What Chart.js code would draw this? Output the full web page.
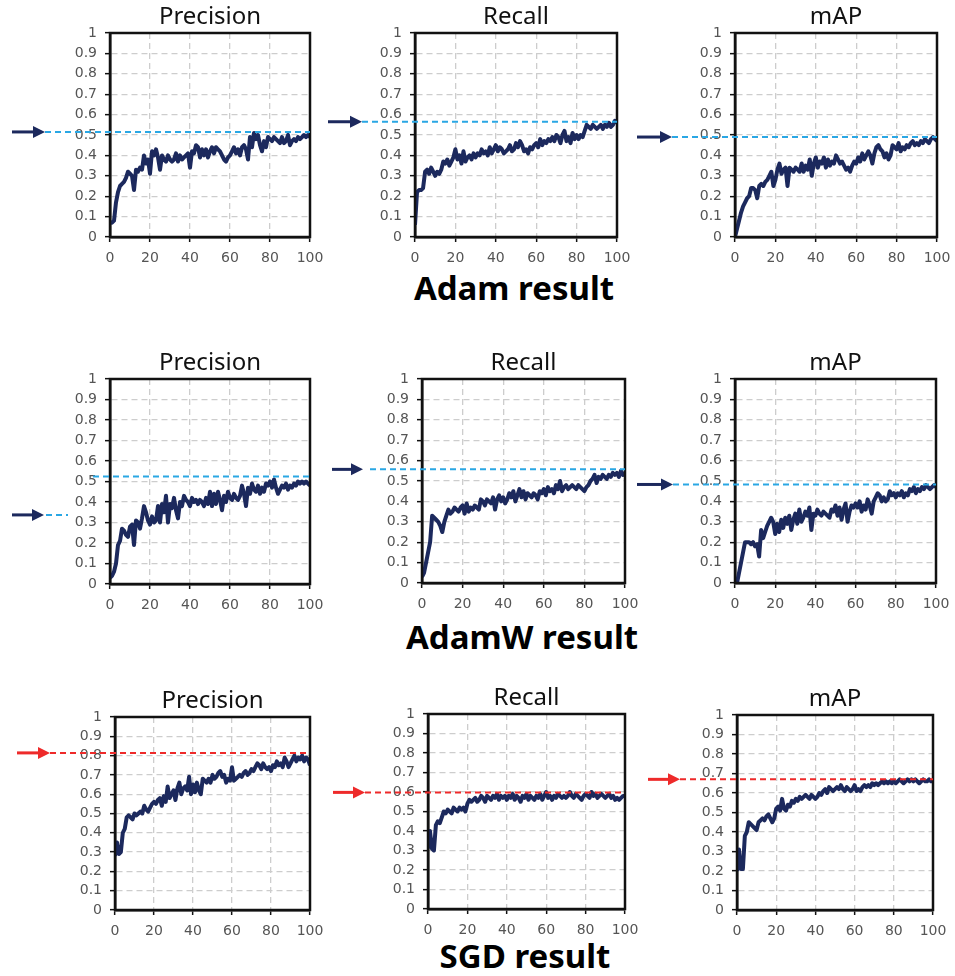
<!DOCTYPE html>
<html>
<head>
<meta charset="utf-8">
<script src="https://cdn.jsdelivr.net/npm/chart.js@4.4.1/dist/chart.umd.min.js"></script>
<style>
  body { margin: 0; background: #fff; }
  #fig { position: relative; width: 955px; height: 976px; overflow: hidden; }
  #fig canvas { position: absolute; }
  .caption { position: absolute; transform: translate(-50%, -50%); font: bold 33px "Noto Sans", sans-serif; color: #000; white-space: nowrap; }
</style>
</head>
<body>
<div id="fig">
  <div class="caption" style="left:514px;top:287px">Adam result</div>
  <div class="caption" style="left:522px;top:636px">AdamW result</div>
  <div class="caption" style="left:525px;top:955px">SGD result</div>
</div>
<script>
// epochs 0..100, one value per epoch
const EPOCHS = Array.from({ length: 101 }, (_, i) => i);
const X_TICKS = [0, 20, 40, 60, 80, 100];
const Y_TICKS = [0, 0.1, 0.2, 0.3, 0.4, 0.5, 0.6, 0.7, 0.8, 0.9, 1];
const METRICS = ['Precision', 'Recall', 'mAP'];

const ADAM_PRECISION = [
  0.07,0.07,0.08,0.17,0.22,0.25,0.26,0.27,0.29,0.32,
  0.31,0.30,0.23,0.33,0.32,0.34,0.33,0.40,0.36,0.38,
  0.31,0.42,0.40,0.43,0.39,0.33,0.40,0.38,0.37,0.40,
  0.38,0.37,0.38,0.41,0.37,0.40,0.38,0.39,0.40,0.41,
  0.34,0.42,0.41,0.45,0.44,0.39,0.43,0.40,0.43,0.39,
  0.42,0.44,0.41,0.44,0.43,0.42,0.40,0.38,0.37,0.39,
  0.40,0.42,0.44,0.41,0.43,0.40,0.44,0.45,0.43,0.38,
  0.49,0.44,0.51,0.48,0.50,0.45,0.42,0.47,0.44,0.49,
  0.48,0.47,0.49,0.48,0.47,0.46,0.49,0.46,0.47,0.50,
  0.45,0.47,0.48,0.47,0.49,0.48,0.49,0.50,0.49,0.50,
  0.49];
const ADAM_RECALL = [
  0.06,0.22,0.23,0.23,0.24,0.32,0.33,0.31,0.34,0.32,
  0.30,0.32,0.31,0.33,0.37,0.36,0.38,0.35,0.37,0.39,
  0.43,0.38,0.40,0.36,0.42,0.37,0.39,0.40,0.38,0.41,
  0.39,0.41,0.40,0.43,0.41,0.42,0.40,0.44,0.41,0.43,
  0.45,0.42,0.44,0.43,0.41,0.42,0.43,0.45,0.42,0.43,
  0.46,0.44,0.47,0.45,0.42,0.43,0.41,0.44,0.43,0.45,
  0.46,0.44,0.48,0.45,0.47,0.46,0.48,0.47,0.49,0.47,
  0.50,0.49,0.46,0.50,0.52,0.47,0.49,0.46,0.51,0.48,
  0.50,0.48,0.50,0.49,0.52,0.55,0.54,0.53,0.55,0.54,
  0.53,0.54,0.55,0.53,0.55,0.54,0.56,0.54,0.55,0.57,
  0.56];
const ADAM_MAP = [
  0.00,0.04,0.08,0.12,0.15,0.17,0.19,0.20,0.24,0.24,
  0.23,0.19,0.25,0.26,0.25,0.27,0.28,0.30,0.32,0.25,
  0.28,0.33,0.36,0.31,0.33,0.34,0.25,0.34,0.33,0.32,
  0.34,0.33,0.32,0.36,0.32,0.35,0.33,0.38,0.30,0.36,
  0.39,0.34,0.37,0.36,0.39,0.34,0.38,0.35,0.37,0.36,
  0.40,0.38,0.36,0.37,0.35,0.33,0.34,0.32,0.35,0.37,
  0.36,0.39,0.37,0.41,0.38,0.40,0.42,0.40,0.36,0.41,
  0.44,0.45,0.43,0.42,0.39,0.41,0.38,0.40,0.45,0.44,
  0.43,0.46,0.42,0.44,0.43,0.45,0.44,0.46,0.47,0.45,
  0.46,0.45,0.47,0.46,0.48,0.47,0.46,0.48,0.49,0.48,
  0.47];

const ADAMW_PRECISION = [
  0.03,0.04,0.06,0.10,0.19,0.21,0.27,0.26,0.24,0.23,
  0.28,0.29,0.19,0.31,0.30,0.27,0.32,0.38,0.35,0.31,
  0.29,0.33,0.30,0.31,0.38,0.30,0.39,0.35,0.43,0.30,
  0.39,0.37,0.42,0.36,0.32,0.40,0.38,0.43,0.41,0.40,
  0.38,0.42,0.40,0.41,0.39,0.41,0.40,0.38,0.42,0.39,
  0.45,0.38,0.44,0.39,0.45,0.41,0.36,0.43,0.40,0.45,
  0.42,0.41,0.44,0.42,0.41,0.43,0.48,0.44,0.38,0.47,
  0.44,0.49,0.46,0.45,0.48,0.44,0.47,0.45,0.49,0.48,
  0.50,0.47,0.51,0.47,0.44,0.46,0.48,0.47,0.49,0.46,
  0.48,0.47,0.49,0.48,0.50,0.49,0.50,0.49,0.50,0.49,
  0.48];
const ADAMW_RECALL = [
  0.03,0.05,0.10,0.15,0.20,0.33,0.32,0.31,0.30,0.28,
  0.25,0.30,0.33,0.36,0.34,0.35,0.37,0.36,0.35,0.37,
  0.38,0.34,0.39,0.35,0.37,0.36,0.38,0.37,0.36,0.41,
  0.40,0.38,0.41,0.40,0.39,0.42,0.36,0.41,0.43,0.40,
  0.42,0.39,0.41,0.44,0.42,0.45,0.40,0.43,0.46,0.42,
  0.45,0.41,0.44,0.43,0.42,0.44,0.43,0.41,0.45,0.44,
  0.46,0.43,0.47,0.45,0.46,0.44,0.48,0.46,0.50,0.45,
  0.47,0.48,0.46,0.47,0.48,0.47,0.46,0.48,0.47,0.46,
  0.45,0.47,0.48,0.50,0.51,0.53,0.49,0.52,0.51,0.53,
  0.52,0.51,0.53,0.52,0.54,0.53,0.54,0.52,0.55,0.53,
  0.54];
const ADAMW_MAP = [
  0.00,0.00,0.05,0.10,0.15,0.20,0.20,0.20,0.19,0.20,
  0.18,0.19,0.13,0.26,0.22,0.25,0.28,0.30,0.32,0.30,
  0.24,0.29,0.25,0.31,0.27,0.32,0.29,0.33,0.26,0.31,
  0.34,0.29,0.36,0.30,0.32,0.35,0.33,0.37,0.26,0.34,
  0.33,0.36,0.34,0.33,0.35,0.34,0.33,0.32,0.36,0.35,
  0.38,0.33,0.37,0.31,0.36,0.39,0.30,0.35,0.38,0.37,
  0.39,0.37,0.40,0.35,0.38,0.36,0.41,0.38,0.34,0.40,
  0.42,0.44,0.43,0.40,0.42,0.40,0.41,0.45,0.43,0.44,
  0.42,0.44,0.43,0.45,0.42,0.44,0.43,0.46,0.45,0.47,
  0.44,0.46,0.45,0.47,0.46,0.48,0.47,0.46,0.47,0.48,
  0.47];

const SGD_PRECISION = [
  0.28,0.35,0.29,0.30,0.40,0.42,0.48,0.49,0.48,0.47,
  0.50,0.49,0.50,0.51,0.50,0.54,0.52,0.51,0.53,0.55,
  0.56,0.55,0.57,0.58,0.54,0.59,0.56,0.64,0.58,0.60,
  0.62,0.57,0.63,0.66,0.60,0.63,0.64,0.62,0.69,0.60,
  0.65,0.61,0.66,0.62,0.60,0.68,0.67,0.66,0.68,0.66,
  0.70,0.68,0.69,0.71,0.72,0.69,0.70,0.66,0.68,0.67,
  0.74,0.67,0.68,0.69,0.70,0.69,0.71,0.72,0.70,0.71,
  0.73,0.72,0.74,0.76,0.75,0.73,0.76,0.74,0.73,0.74,
  0.72,0.75,0.74,0.77,0.75,0.76,0.74,0.79,0.77,0.74,
  0.76,0.78,0.80,0.77,0.79,0.78,0.80,0.77,0.79,0.78,
  0.75];
const SGD_RECALL = [
  0.31,0.40,0.31,0.30,0.43,0.45,0.44,0.47,0.50,0.49,
  0.51,0.50,0.49,0.52,0.51,0.50,0.52,0.51,0.52,0.50,
  0.54,0.56,0.55,0.56,0.57,0.55,0.56,0.58,0.57,0.55,
  0.58,0.57,0.56,0.58,0.57,0.59,0.56,0.58,0.57,0.58,
  0.56,0.58,0.57,0.59,0.56,0.58,0.57,0.55,0.58,0.57,
  0.59,0.56,0.58,0.57,0.56,0.58,0.57,0.59,0.56,0.58,
  0.60,0.57,0.58,0.56,0.58,0.57,0.59,0.58,0.57,0.58,
  0.57,0.58,0.60,0.58,0.57,0.59,0.58,0.57,0.56,0.58,
  0.59,0.58,0.57,0.60,0.58,0.59,0.57,0.58,0.59,0.58,
  0.57,0.58,0.59,0.57,0.58,0.56,0.57,0.56,0.57,0.58,
  0.58];
const SGD_MAP = [
  0.20,0.31,0.21,0.21,0.38,0.40,0.45,0.44,0.43,0.42,
  0.41,0.45,0.46,0.47,0.46,0.48,0.49,0.47,0.45,0.47,
  0.52,0.53,0.51,0.57,0.52,0.51,0.54,0.53,0.56,0.55,
  0.57,0.56,0.58,0.57,0.58,0.59,0.58,0.57,0.59,0.58,
  0.57,0.58,0.60,0.59,0.61,0.62,0.60,0.63,0.62,0.61,
  0.62,0.63,0.62,0.64,0.62,0.61,0.63,0.62,0.61,0.62,
  0.64,0.61,0.62,0.61,0.63,0.64,0.63,0.64,0.63,0.65,
  0.64,0.65,0.64,0.65,0.66,0.65,0.66,0.65,0.66,0.65,
  0.66,0.65,0.66,0.67,0.66,0.65,0.66,0.67,0.66,0.67,
  0.66,0.67,0.66,0.65,0.66,0.67,0.66,0.66,0.67,0.66,
  0.66];

// best-value reference lines (Precision, Recall, mAP)
const ADAM_REF = [0.515, 0.565, 0.49];
const ADAMW_REF = [0.524, 0.557, 0.483];
const SGD_REF = [0.814, 0.598, 0.67];
// in the AdamW precision panel the arrow sits lower than its line
const ADAMW_PRECISION_ARROW = 0.337;

const SERIES = [
  [ADAM_PRECISION, ADAM_RECALL, ADAM_MAP],
  [ADAMW_PRECISION, ADAMW_RECALL, ADAMW_MAP],
  [SGD_PRECISION, SGD_RECALL, SGD_MAP]
];
const REFS = [ADAM_REF, ADAMW_REF, SGD_REF];

const NAVY = '#1c295d';
const BLUE = '#2aa7e4';
const RED = '#ee2a2a';
const REF_COLORS = [BLUE, BLUE, RED];
const ARROW_COLORS = [NAVY, NAVY, RED];

// plot boxes on the page [left, top, right, bottom]; arrow/line offsets relative to plot left
const PANELS = [
  { row: 0, col: 0, box: [110, 33, 310, 237], arrow: [-98, -65], lineFrom: -65 },
  { row: 0, col: 1, box: [415, 33, 617, 237], arrow: [-87, -53], lineFrom: -53 },
  { row: 0, col: 2, box: [735, 33, 937, 237], arrow: [-98, -63], lineFrom: -63 },
  { row: 1, col: 0, box: [110, 379, 310, 584], arrow: [-98, -66], lineFrom: -17, stub: 22 },
  { row: 1, col: 1, box: [422, 379, 625, 583], arrow: [-90, -59], lineFrom: -52 },
  { row: 1, col: 2, box: [735, 379, 936, 583], arrow: [-98, -62], lineFrom: -62 },
  { row: 2, col: 0, box: [115, 717, 310, 910], arrow: [-98, -65], lineFrom: -65 },
  { row: 2, col: 1, box: [428, 714, 625, 909], arrow: [-95, -63], lineFrom: -63 },
  { row: 2, col: 2, box: [737, 715, 933, 910], arrow: [-89, -57], lineFrom: -57 }
];

const Y_W = 110, X_H = 40, PAD_TOP = 40, PAD_RIGHT = 25;
const FONT = '"Noto Sans", "DejaVu Sans", sans-serif';
const TICK_FONT = '"DejaVu Sans", sans-serif';

const decor = {
  id: 'decor',
  afterDatasetsDraw(chart, args, o) {
    const { ctx, chartArea: a, scales } = chart;
    const y = scales.y;
    ctx.save();
    // frame
    ctx.strokeStyle = '#111';
    ctx.lineWidth = 2.5;
    ctx.strokeRect(a.left, a.top, a.right - a.left, a.bottom - a.top);
    // reference dashed line
    const yr = y.getPixelForValue(o.ref);
    ctx.strokeStyle = o.refColor;
    ctx.lineWidth = 2;
    ctx.setLineDash([6, 4]);
    ctx.beginPath();
    ctx.moveTo(a.left + o.lineFrom, yr);
    ctx.lineTo(a.right, yr);
    ctx.stroke();
    // arrow
    const ya = y.getPixelForValue(o.arrowAt);
    const x0 = a.left + o.arrow[0], x1 = a.left + o.arrow[1];
    if (o.stub) {
      ctx.beginPath();
      ctx.moveTo(x1 + 2, ya);
      ctx.lineTo(x1 + 2 + o.stub, ya);
      ctx.stroke();
    }
    ctx.setLineDash([]);
    ctx.strokeStyle = o.arrowColor;
    ctx.fillStyle = o.arrowColor;
    ctx.lineWidth = 3;
    ctx.beginPath();
    ctx.moveTo(x0, ya);
    ctx.lineTo(x1 - 8, ya);
    ctx.stroke();
    ctx.beginPath();
    ctx.moveTo(x1, ya);
    ctx.lineTo(x1 - 12, ya - 6);
    ctx.lineTo(x1 - 12, ya + 6);
    ctx.closePath();
    ctx.fill();
    // panel title
    ctx.fillStyle = '#111';
    ctx.font = '24px ' + FONT;
    ctx.textAlign = 'center';
    ctx.textBaseline = 'middle';
    ctx.fillText(o.title, (a.left + a.right) / 2, a.top - 16);
    ctx.restore();
  }
};

function axis(ticks, fitFn) {
  return {
    type: 'linear',
    min: ticks[0],
    max: ticks[ticks.length - 1],
    afterBuildTicks: s => { s.ticks = ticks.map(v => ({ value: v })); },
    afterFit: fitFn,
    ticks: {
      color: '#555',
      font: { family: TICK_FONT, size: 14 },
      padding: 8,
      autoSkip: false,
      maxRotation: 0,
      callback: v => String(+v.toFixed(1))
    },
    grid: { color: '#cdcdcd', lineWidth: 1.3, tickLength: 5, tickColor: '#111', tickWidth: 1.5 },
    border: { display: true, color: '#111', width: 2.5, dash: [6, 4] }
  };
}

const fig = document.getElementById('fig');
PANELS.forEach(p => {
  const [l, t, r, b] = p.box;
  const cv = document.createElement('canvas');
  cv.width = Y_W + (r - l) + PAD_RIGHT;
  cv.height = PAD_TOP + (b - t) + X_H;
  cv.style.left = (l - Y_W) + 'px';
  cv.style.top = (t - PAD_TOP) + 'px';
  fig.appendChild(cv);

  const values = SERIES[p.row][p.col];
  const ref = REFS[p.row][p.col];
  new Chart(cv, {
    type: 'line',
    data: {
      datasets: [{
        data: values.map((v, i) => ({ x: EPOCHS[i], y: v })),
        borderColor: NAVY,
        borderWidth: 4,
        borderJoinStyle: 'round',
        pointRadius: 0,
        tension: 0
      }]
    },
    options: {
      responsive: false,
      animation: false,
      layout: { padding: { left: 0, top: PAD_TOP, right: PAD_RIGHT, bottom: 0 } },
      plugins: {
        legend: { display: false },
        tooltip: { enabled: false },
        decor: {
          title: METRICS[p.col],
          ref: ref,
          refColor: REF_COLORS[p.row],
          arrowColor: ARROW_COLORS[p.row],
          arrowAt: (p.row === 1 && p.col === 0) ? ADAMW_PRECISION_ARROW : ref,
          arrow: p.arrow,
          lineFrom: p.lineFrom,
          stub: p.stub || 0
        }
      },
      scales: {
        x: axis(X_TICKS, s => { s.height = X_H; }),
        y: axis(Y_TICKS, s => { s.width = Y_W; })
      }
    },
    plugins: [decor]
  });
});
</script>
</body>
</html>
